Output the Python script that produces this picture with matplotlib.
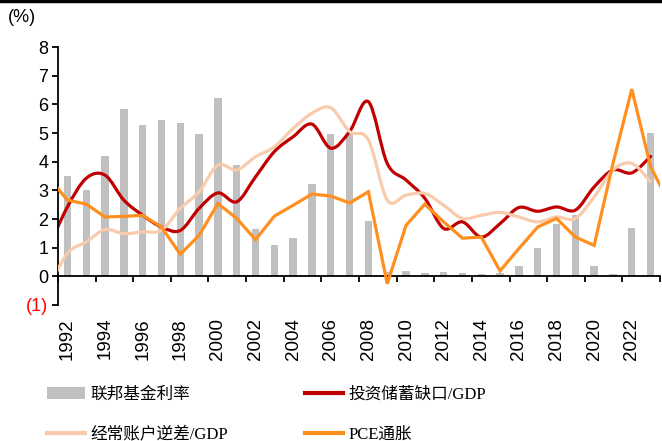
import numpy as np
import matplotlib
matplotlib.use("Agg")
import matplotlib.pyplot as plt
from matplotlib.path import Path
from matplotlib.patches import PathPatch, Patch
from matplotlib.lines import Line2D

plt.rcParams['font.family'] = ['Liberation Sans', 'Noto Sans CJK SC']

years = np.arange(1992, 2024)
fed_funds = [3.51, 3.0, 4.2, 5.84, 5.28, 5.44, 5.34, 4.97, 6.23, 3.88, 1.65, 1.11, 1.34,
             3.22, 4.97, 4.98, 1.92, 0.16, 0.17, 0.10, 0.14, 0.11, 0.09, 0.13, 0.37,
             0.99, 1.82, 2.13, 0.36, 0.08, 1.67, 5.01]

# lines carry one extra year on the left (and PCE on the right), clipped by the axis
line_years = np.arange(1991, 2024)
inv_gap = [1.0, 2.42, 3.42, 3.53, 2.66, 2.13, 1.72, 1.6, 2.37, 2.91, 2.6, 3.47, 4.35,
           4.87, 5.31, 4.47, 5.05, 6.09, 3.94, 3.36, 2.72, 1.67, 1.9, 1.37, 1.84, 2.4,
           2.27, 2.42, 2.31, 3.12, 3.71, 3.61, 4.18]
ca_deficit = [-0.4, 0.8, 1.2, 1.63, 1.49, 1.55, 1.61, 2.37, 2.95, 3.88, 3.71, 4.17, 4.52,
              5.16, 5.69, 5.88, 5.05, 4.76, 2.66, 2.83, 2.89, 2.48, 2.02, 2.13, 2.23, 2.07,
              1.9, 2.07, 2.02, 2.77, 3.71, 3.94, 3.3]
pce_years = np.arange(1991, 2025)
pce = [3.45, 2.66, 2.52, 2.07, 2.09, 2.13, 1.72, 0.77, 1.43, 2.54, 2.02, 1.28, 2.1, 2.48,
       2.87, 2.8, 2.56, 2.95, -0.26, 1.78, 2.52, 1.9, 1.33, 1.37, 0.19, 0.97, 1.72, 2.02,
       1.37, 1.08, 3.94, 6.53, 3.82, 2.55]

labels = ['联邦基金利率', '投资储蓄缺口/GDP', '经常账户逆差/GDP', 'PCE通胀']
c_bar, c_red, c_peach, c_orange = '#C0C0C0', '#C00000', '#F8CBAD', '#FF8F1F'


def smooth_path(x, y, t=1/6):
    # Excel-like smoothed line: cubic bezier segments through the data points
    pts = np.column_stack([x, y]).astype(float)
    verts = [pts[0]]
    codes = [Path.MOVETO]
    n = len(pts)
    for i in range(n - 1):
        p0 = pts[max(i - 1, 0)]
        p1 = pts[i]
        p2 = pts[i + 1]
        p3 = pts[min(i + 2, n - 1)]
        verts += [p1 + (p2 - p0) * t, p2 - (p3 - p1) * t, p2]
        codes += [Path.CURVE4] * 3
    return Path(verts, codes)


fig = plt.figure(figsize=(6.62, 4.41), dpi=100)
ax = fig.add_axes([0.0876, 0.3084, 0.9094, 0.585])

ax.bar(years, fed_funds, width=0.39, color=c_bar, zorder=1)
ax.add_patch(PathPatch(smooth_path(line_years, inv_gap), fill=False, edgecolor=c_red,
                       lw=2.3, zorder=2, capstyle='round'))
ax.add_patch(PathPatch(smooth_path(line_years, ca_deficit), fill=False, edgecolor=c_peach,
                       lw=2.3, zorder=3, capstyle='round'))
ax.plot(pce_years, pce, color=c_orange, lw=2.3, zorder=4, solid_joinstyle='miter')

ax.set_xlim(1991.5, 2023.5)
ax.set_ylim(-1, 8)

for s in ['top', 'right']:
    ax.spines[s].set_visible(False)
ax.spines['bottom'].set_position(('data', 0))
ax.spines['bottom'].set_linewidth(1.3)
ax.spines['left'].set_linewidth(1.3)

ax.set_xticks(np.arange(1991.5, 2024, 2))
ax.set_xticklabels([])
ax.set_xticks(np.arange(1992, 2023, 2), minor=True)
ax.set_xticklabels([str(y) for y in range(1992, 2023, 2)], minor=True, rotation=90,
                   fontsize=13.5)
ax.tick_params(axis='x', which='major', direction='out', length=4.5, width=1.3)
ax.tick_params(axis='x', which='minor', length=0, pad=30)

ax.set_yticks(range(-1, 9))
ax.set_yticklabels(['(1)'] + [str(v) for v in range(0, 9)], fontsize=13)
ax.get_yticklabels()[0].set_color('red')
ax.tick_params(axis='y', direction='out', length=4, width=1.3, pad=3)

fig.text(8 / 662, 1 - 18 / 441, '(%)', fontsize=13, va='center', ha='left')
fig.add_artist(Line2D([0, 1], [0.997, 0.997], color='black', lw=2.5,
                      transform=fig.transFigure))

leg_font = {'family': ['Liberation Serif', 'Noto Sans CJK SC'], 'size': 12}
h_bar = Patch(facecolor=c_bar, edgecolor='none')
h_red = Line2D([], [], color=c_red, lw=3)
h_peach = Line2D([], [], color=c_peach, lw=3)
h_orange = Line2D([], [], color=c_orange, lw=3)
common = dict(loc='upper left', frameon=False, prop=leg_font, borderpad=0,
              borderaxespad=0, handlelength=2.3, handletextpad=0.3, labelspacing=1.4)
fig.legend([h_bar, h_peach], [labels[0], labels[2]],
           bbox_to_anchor=(47 / 662, 1 - 387 / 441), **common)
fig.legend([h_red, h_orange], [labels[1], labels[3]],
           bbox_to_anchor=(305 / 662, 1 - 387 / 441), **common)

fig.savefig('out.png', dpi=100)
